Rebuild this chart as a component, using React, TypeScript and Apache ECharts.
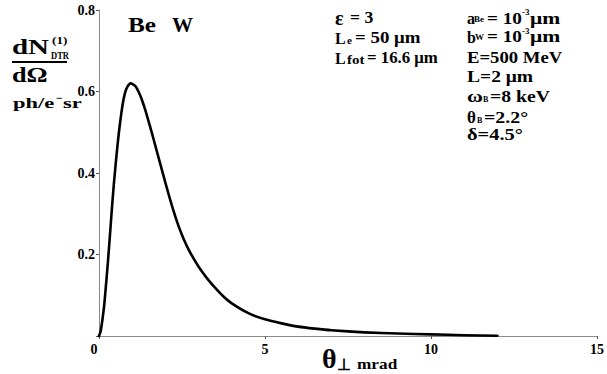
import React, { useEffect, useRef } from "react";
import * as echarts from "echarts";

// angle theta_perp (mrad)
const thetaMrad = [0, 0.05, 0.1, 0.15, 0.2, 0.25, 0.3, 0.35, 0.4, 0.45, 0.5, 0.55, 0.6, 0.65, 0.7, 0.75, 0.8, 0.85, 0.9, 0.95, 1.0, 1.1, 1.2, 1.3, 1.4, 1.5, 1.6, 1.7, 1.8, 1.9, 2.0, 2.1, 2.2, 2.3, 2.4, 2.5, 2.6, 2.7, 2.8, 2.9, 3.0, 3.25, 3.5, 3.75, 4.0, 4.5, 5.0, 5.5, 6.0, 6.5, 7.0, 8.0, 9.0, 10, 11, 12];
// dN/dΩ (ph/e- sr)
const dNdOmega = [0, 0.012, 0.038, 0.07, 0.115, 0.163, 0.215, 0.27, 0.325, 0.375, 0.42, 0.462, 0.5, 0.533, 0.562, 0.585, 0.601, 0.611, 0.617, 0.62, 0.619, 0.613, 0.598, 0.578, 0.553, 0.525, 0.496, 0.466, 0.436, 0.406, 0.376, 0.347, 0.319, 0.293, 0.269, 0.248, 0.229, 0.212, 0.197, 0.183, 0.17, 0.142, 0.118, 0.097, 0.08, 0.056, 0.041, 0.031, 0.023, 0.018, 0.014, 0.009, 0.006, 0.004, 0.002, 0.0005];

const xTicks = [0, 5, 10, 15];
const yTicks = [0, 0.2, 0.4, 0.6, 0.8];

const FONT = "'Liberation Serif', 'Times New Roman', serif";

const txt = (x: number, y: number, text: string, size: number, sx = 1) => ({
  type: "text",
  x,
  y,
  scaleX: sx,
  silent: true,
  style: {
    text,
    x: 0,
    y: 0,
    font: `bold ${size}px ${FONT}`,
    fill: "#000",
    align: "left",
    verticalAlign: "middle",
    textAlign: "left",
    textVerticalAlign: "middle",
  },
});

export default function App() {
  const ref = useRef<HTMLDivElement>(null);
  useEffect(() => {
    if (!ref.current) return;
    const chart = echarts.init(ref.current, null, { renderer: "svg" });
    const data = thetaMrad.map((t, i) => [t, dNdOmega[i]]);
    chart.setOption({
      animation: false,
      backgroundColor: "#fff",
      grid: { left: 99, right: 8, top: 10, bottom: 38, containLabel: false },
      xAxis: {
        type: "value",
        min: xTicks[0],
        max: xTicks[xTicks.length - 1],
        interval: 5,
        axisLine: { show: true, lineStyle: { color: "#8a8a8a", width: 1 } },
        axisTick: { show: true, length: 3, lineStyle: { color: "#555" } },
        splitLine: { show: false },
        axisLabel: {
          margin: 6,
          color: "#000",
          fontFamily: FONT,
          fontWeight: "bold",
          fontSize: 14,
          formatter: (v: number) => (v === 0 ? "{z|0}" : String(v)),
          rich: {
            z: { padding: [0, 10, 0, 0], color: "#000", fontFamily: FONT, fontWeight: "bold", fontSize: 14 },
          },
        },
      },
      yAxis: {
        type: "value",
        min: yTicks[0],
        max: yTicks[yTicks.length - 1],
        interval: 0.2,
        axisLine: { show: true, lineStyle: { color: "#8a8a8a", width: 1 } },
        axisTick: { show: true, length: 3, lineStyle: { color: "#555" } },
        splitLine: { show: false },
        axisLabel: {
          margin: 4,
          color: "#000",
          fontFamily: FONT,
          fontWeight: "bold",
          fontSize: 14,
          formatter: (v: number) => (v === 0 ? "" : v.toFixed(1)),
        },
      },
      series: [
        {
          type: "line",
          data,
          showSymbol: false,
          smooth: 0.2,
          lineStyle: { color: "#000", width: 2.6, join: "round", cap: "round" },
          clip: false,
        },
      ],
      graphic: [
        // plot label
        txt(128, 25, "Be", 21, 1.2),
        txt(172, 25, "W", 21, 1.0),
        // y-axis title
        txt(12, 47, "dN", 20, 1.45),
        txt(52, 40, "(1)", 11, 1.2),
        txt(51, 56, "DTR", 10, 0.85),
        { type: "line", silent: true, shape: { x1: 12, y1: 62, x2: 67, y2: 62 }, style: { stroke: "#000", lineWidth: 2 } },
        txt(12, 74.5, "dΩ", 21, 1.25),
        txt(13, 103, "ph/e", 15, 1.5),
        txt(56, 98, "−", 12, 1.0),
        txt(63, 103, "sr", 15, 1.5),
        // left parameter column
        txt(335, 18, "ε", 20, 1.0),
        txt(350, 18, "= 3", 16, 1.1),
        txt(335, 38, "L", 16, 1.0),
        txt(347, 40, "e", 11, 1.0),
        txt(355, 38, "= 50 μm", 16, 1.18),
        txt(335, 58, "L", 16, 1.0),
        txt(347, 60, "fot", 12, 1.25),
        txt(367, 58, "= 16.6 μm", 16, 1.05),
        // right parameter column
        txt(467, 18.5, "a", 16, 1.0),
        txt(474, 19, "Be", 9, 1.0),
        txt(487, 18.5, "= 10", 16, 1.2),
        txt(522, 12, "-3", 9, 1.0),
        txt(530, 18.5, "μm", 16, 1.35),
        txt(467, 37, "b", 16, 1.0),
        txt(475, 37, "W", 9, 1.0),
        txt(487, 37, "= 10", 16, 1.2),
        txt(522, 31, "-3", 9, 1.0),
        txt(530, 37, "μm", 16, 1.35),
        txt(467, 57.5, "E=500 MeV", 17, 1.1),
        txt(467, 76.5, "L=2 μm", 17, 1.15),
        txt(467, 96, "ω", 17, 1.28),
        txt(483, 99, "B", 8, 1.0),
        txt(490, 96, "=8 keV", 17, 1.16),
        txt(467, 117, "θ", 17, 1.0),
        txt(477, 120, "B", 8, 1.0),
        txt(484, 117, "=2.2°", 17, 1.17),
        txt(467, 134, "δ=4.5°", 17, 1.2),
        // x-axis title
        txt(322, 358, "θ", 28, 1.0),
        txt(337, 364, "⊥", 16, 1.0),
        txt(357, 364, "mrad", 15, 1.15),
      ],
    });
    return () => chart.dispose();
  }, []);
  return <div ref={ref} style={{ width: 607, height: 374, position: "absolute", left: 0, top: 0 }} />;
}
